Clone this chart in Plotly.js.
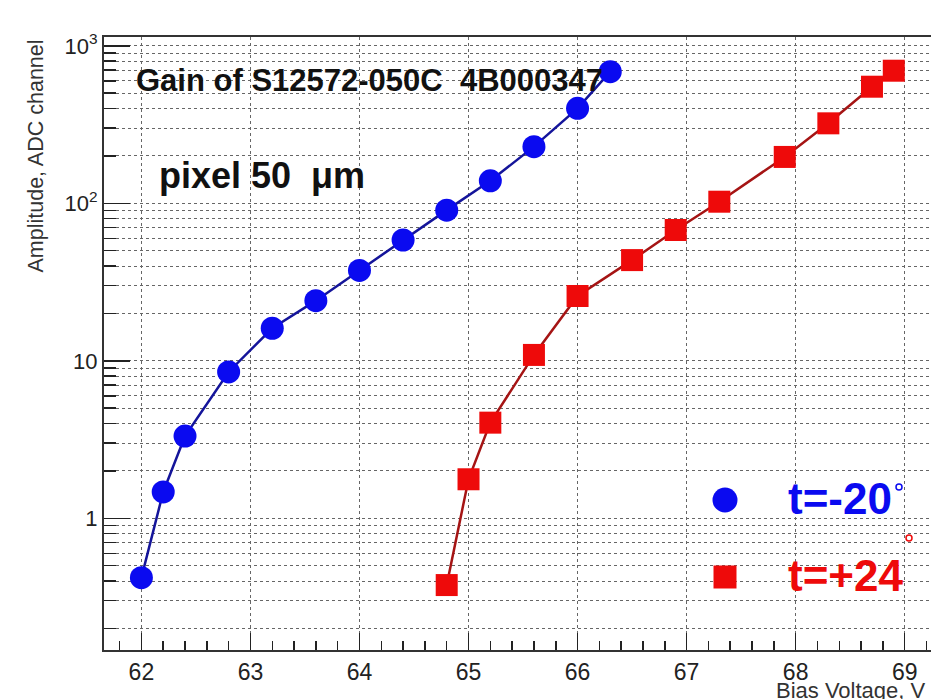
<!DOCTYPE html>
<html>
<head>
<meta charset="utf-8">
<script src="https://cdn.plot.ly/plotly-3.0.1.min.js"></script>
<style>html,body{margin:0;padding:0;background:#fff;overflow:hidden}</style>
</head>
<body>
<div id="chart" style="width:931px;height:699px"></div>
<script>
// ---- data ----
var voltCold = [62.0, 62.2, 62.4, 62.8, 63.2, 63.6, 64.0, 64.4, 64.8, 65.2, 65.6, 66.0, 66.3];
var ampCold  = [0.42, 1.47, 3.33, 8.5, 16.1, 24.1, 37.5, 58.5, 90.5, 139, 229, 401, 685];
var voltWarm = [64.8, 65.0, 65.2, 65.6, 66.0, 66.5, 66.9, 67.3, 67.9, 68.3, 68.7, 68.9];
var ampWarm  = [0.377, 1.77, 4.05, 10.9, 25.8, 43.6, 67.7, 102.4, 197, 322, 550, 695];
var nameCold = "t=-20";
var nameWarm = "t=+24";
var yTickVals = [1, 10, 100, 1000];
var yTickText = ["1", "10", "10<sup>2</sup>", "10<sup>3</sup>"];
var titleText = "Gain of S12572-050C\u00a0\u00a04B000347";
var pixelText = "pixel 50\u00a0\u00a0\u03bcm";
var xTitle = "Bias Voltage, V";
var yTitle = "Amplitude, ADC channel";

// ---- layout helpers (pixel -> paper) ----
var L = 104, T = 37, W = 931, H = 699, B = 650, R = 931;
function px(x) { return (x - L) / (R - L); }
function py(y) { return (B - y) / (B - T); }

var yMinor = [];
for (var d = -1; d <= 3; d++) {
  for (var k = 2; k <= 9; k++) yMinor.push(k * Math.pow(10, d));
}

var font = "Liberation Sans, Arial, Helvetica, sans-serif";

var traces = [
  {
    x: voltCold, y: ampCold, name: nameCold, type: "scatter", mode: "lines+markers",
    line: {color: "#14149a", width: 2.5},
    marker: {symbol: "circle", size: 23, color: "#0a0af0", line: {width: 0}}
  },
  {
    x: voltWarm, y: ampWarm, name: nameWarm, type: "scatter", mode: "lines+markers",
    line: {color: "#a51414", width: 2.5},
    marker: {symbol: "square", size: 22, color: "#ee0a0a", line: {width: 0}}
  }
];

var layout = {
  width: W, height: H,
  margin: {l: L, r: W - R, t: T, b: H - B, pad: 0},
  paper_bgcolor: "#fff", plot_bgcolor: "#fff",
  showlegend: false,
  font: {family: font, color: "#222"},
  xaxis: {
    range: [61.657, 61.657 + (R - L) / 109.04],
    tick0: 62, dtick: 1,
    ticks: "inside", ticklen: 17, tickwidth: 1.5, tickcolor: "#222",
    showline: true, linecolor: "#333", linewidth: 2, mirror: true,
    showgrid: true, gridcolor: "#666", griddash: "dot", gridwidth: 1,
    zeroline: false,
    tickfont: {size: 23, color: "#222", family: font},
    minor: {ticks: "inside", ticklen: 9, tickwidth: 1.5, tickcolor: "#222", dtick: 0.2, tick0: 62, showgrid: false}
  },
  yaxis: {
    type: "log",
    range: [-0.836, 3.056],
    tickmode: "array", tickvals: yTickVals, ticktext: yTickText,
    ticks: "inside", ticklen: 26, tickwidth: 1.5, tickcolor: "#222",
    showline: true, linecolor: "#333", linewidth: 2, mirror: false,
    showgrid: true, gridcolor: "#666", griddash: "dot", gridwidth: 1,
    zeroline: false,
    tickfont: {size: 22, color: "#222", family: font},
    minor: {tickmode: "array", tickvals: yMinor, ticks: "inside", ticklen: 12, tickwidth: 1.5, tickcolor: "#222",
            showgrid: true, gridcolor: "#666", griddash: "dot", gridwidth: 1}
  },
  annotations: [
    {xref: "paper", yref: "paper", x: px(134), y: py(81), xanchor: "left", yanchor: "middle",
     text: "<b>" + titleText + "</b>", showarrow: false, font: {size: 31, color: "#111", family: font}},
    {xref: "paper", yref: "paper", x: px(157), y: py(176), xanchor: "left", yanchor: "middle",
     text: "<b>" + pixelText + "</b>", showarrow: false, font: {size: 36, color: "#111", family: font}},
    {xref: "paper", yref: "paper", x: px(786), y: py(498), xanchor: "left", yanchor: "middle",
     text: "<b>" + nameCold + "</b>", showarrow: false, font: {size: 44, color: "#0a0af0", family: font}},
    {xref: "paper", yref: "paper", x: px(786), y: py(575), xanchor: "left", yanchor: "middle",
     text: "<b>" + nameWarm + "</b>", showarrow: false, font: {size: 44, color: "#ee0a0a", family: font}},
    {xref: "paper", yref: "paper", x: px(35), y: py(38), xanchor: "center", yanchor: "top", textangle: -90,
     text: yTitle, showarrow: false, font: {size: 21.5, color: "#333", family: font}},
    {xref: "paper", yref: "paper", x: px(928), y: py(676), xanchor: "right", yanchor: "top",
     text: xTitle, showarrow: false, font: {size: 22, color: "#333", family: font}}
  ],
  shapes: [
    {type: "circle", xref: "paper", yref: "paper", x0: px(712.5), x1: px(737.5), y0: py(512.5), y1: py(487.5),
     fillcolor: "#0a0af0", line: {width: 0}},
    {type: "rect", xref: "paper", yref: "paper", x0: px(713.5), x1: px(736.5), y0: py(588.5), y1: py(565.5),
     fillcolor: "#ee0a0a", line: {width: 0}},
    {type: "circle", xref: "paper", yref: "paper", x0: px(896), x1: px(902), y0: py(490), y1: py(484),
     line: {color: "#0a0af0", width: 1.5}},
    {type: "circle", xref: "paper", yref: "paper", x0: px(906), x1: px(912), y0: py(541), y1: py(535),
     line: {color: "#ee0a0a", width: 1.5}}
  ]
};

Plotly.newPlot("chart", traces, layout, {displayModeBar: false, staticPlot: true});
</script>
</body>
</html>
